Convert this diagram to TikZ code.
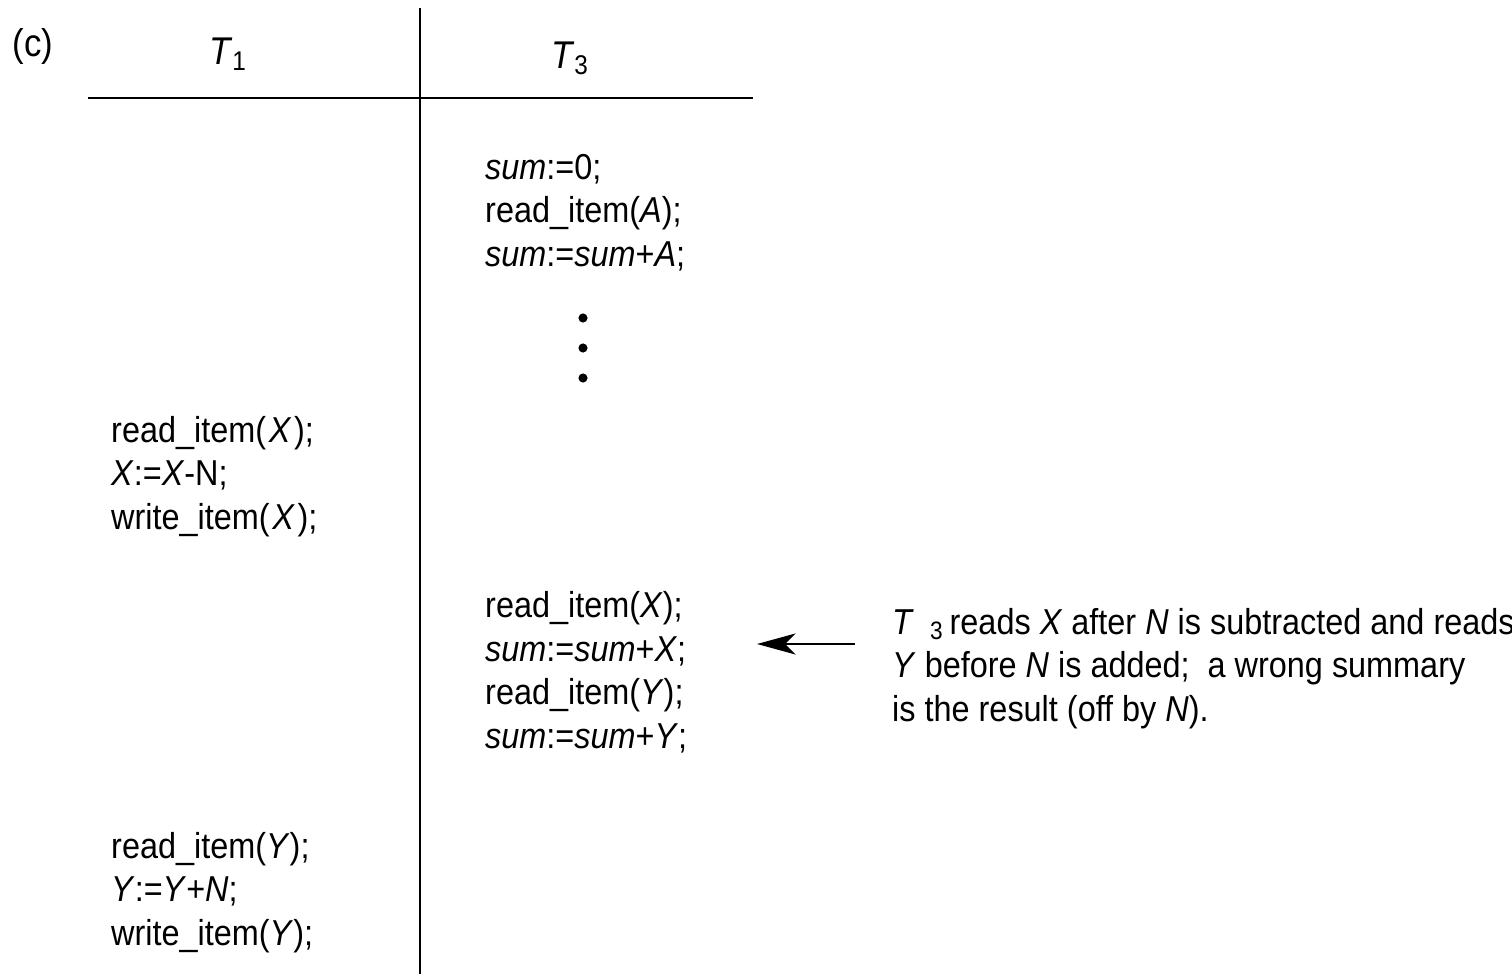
\documentclass[tikz,border=0pt]{standalone}
\usepackage{fontspec}
\setmainfont{Liberation Sans}[FakeStretch=0.9]
\usetikzlibrary{positioning}
\usetikzlibrary{arrows.meta}

\begin{document}
\begin{tikzpicture}[x=0.02cm,y=-0.02cm,line width=1.4pt,
                    >={Stealth[length=22pt,width=12pt,inset=6pt]},
                    code/.style={anchor=base west,align=left,inner sep=0pt,
                                 font=\fontsize{20.5}{24.75}\selectfont},
                    head/.style={anchor=base,inner sep=0pt,
                                 font=\fontsize{22}{25}\selectfont}]
\useasboundingbox (0,0) rectangle (1512,974);
% column heads
\node[head] (part) at (33,56) {(c)};
\node[head] (t1head) at (228,64) {\textit{T}\textsubscript{1}};
\node[head] (t3head) at (570,68) {\textit{T}\textsubscript{3}};
\draw (88,98) -- (753,98);
\draw (420,8) -- (420,974);
% T3 starts summing (anchor = last line)
\node[code] (t3start) at (484,266) {\textit{sum}:=0;\\
  read\_item(\textit{A});\\
  \textit{sum}:=\textit{sum}+\textit{A};};
\foreach \y in {318,348,378}
  \fill (583,\y) circle[radius=2.6pt];
% T1 moves N from X ...
\node[code] (t1first) at (110,529) {read\_item(\hspace{1.5pt}\textit{X}\hspace{1.5pt});\\
  \textit{X}:=\textit{X}-N;\\
  write\_item(\hspace{1.5pt}\textit{X}\hspace{1.5pt});};
% T3 reads in between
\node[code] (t3mid) at (484,748) {read\_item(\textit{X});\\
  \textit{sum}:=\textit{sum}+\textit{X};\\
  read\_item(\textit{Y});\\
  \textit{sum}:=\textit{sum}+\textit{Y};};
% ... to Y
\node[code] (t1second) at (110,945) {read\_item(\textit{Y});\\
  \textit{Y}:=\textit{Y}+\textit{N};\\
  write\_item(\textit{Y});};
% remark
\node[code] (remark) at (891,721) {\textit{T}\hspace{0.45em}\textsubscript{3}\,reads \textit{X} after \textit{N} is subtracted and reads\\
  \textit{Y} before \textit{N} is added;\ \ a wrong summary\\
  is the result (off by \textit{N}).};
\coordinate (tail) at (855,644);
\coordinate (tip) at (757,644);
\draw[->,line width=1.3pt] (tail) -- (tip);
\end{tikzpicture}
\end{document}
